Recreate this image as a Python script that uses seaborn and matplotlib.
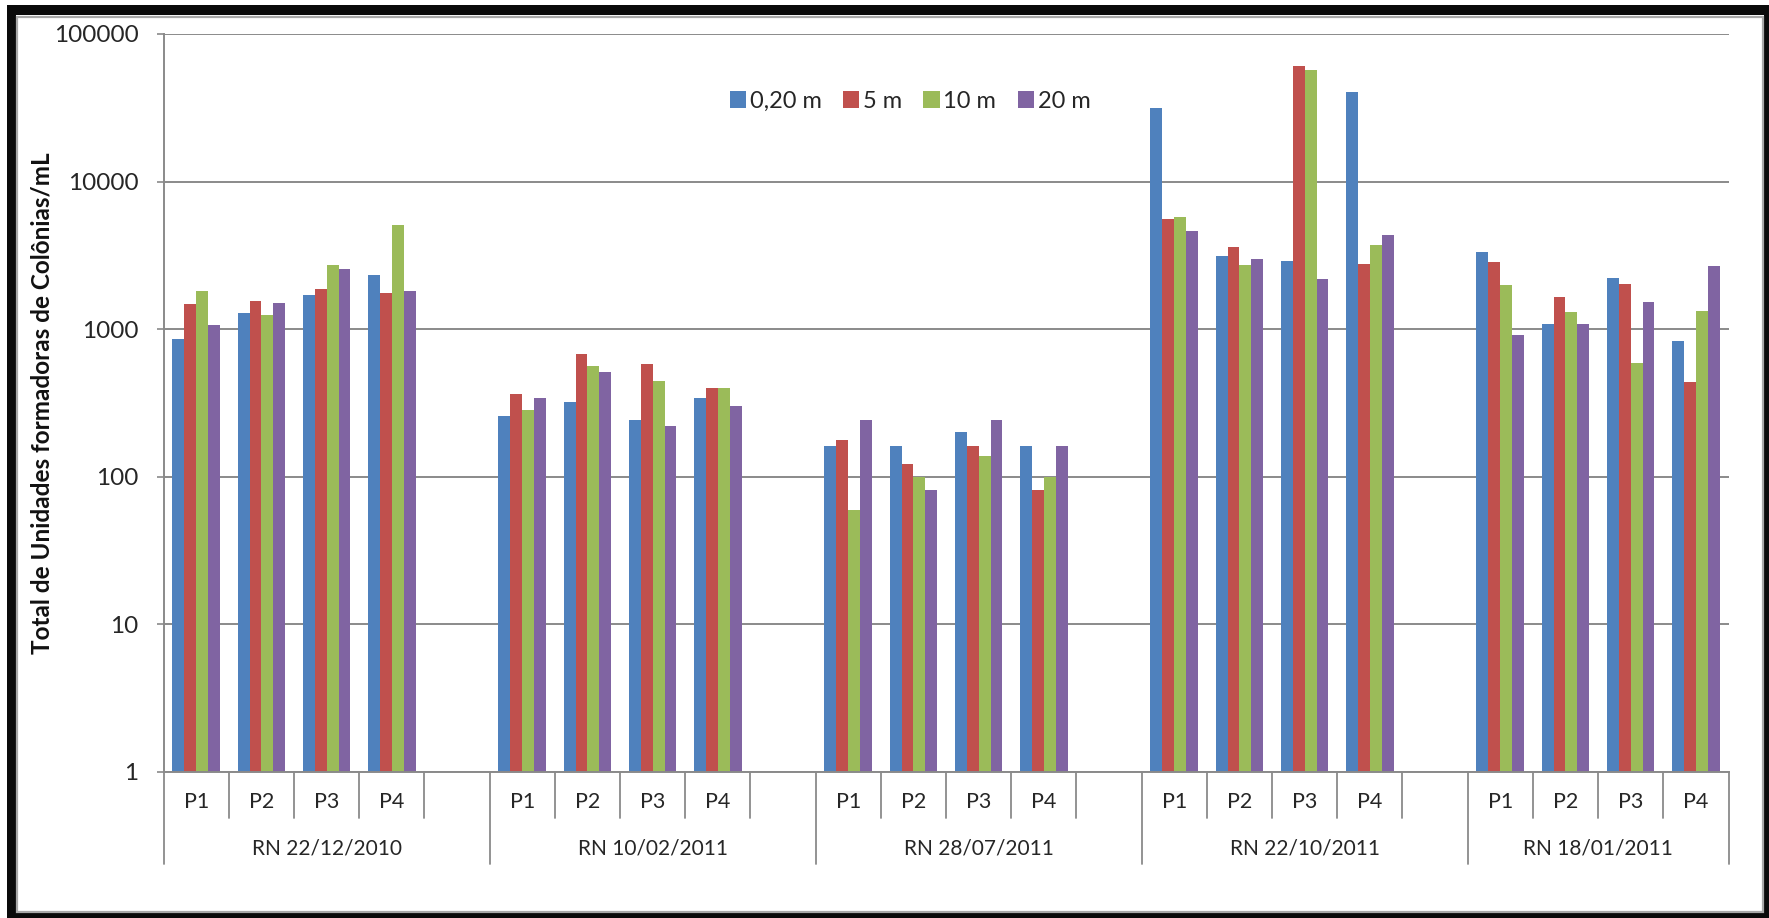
import matplotlib
matplotlib.use("Agg")
import matplotlib.pyplot as plt
from matplotlib.patches import Rectangle, Patch
from matplotlib.ticker import FixedLocator, FixedFormatter, NullLocator
import pandas as pd
import seaborn as sns

# Sampling campaigns, sampling points and depths
campaigns = ["RN 22/12/2010", "RN 10/02/2011", "RN 28/07/2011", "RN 22/10/2011", "RN 18/01/2011"]
points = ["P1", "P2", "P3", "P4"]
depths = ["0,20 m", "5 m", "10 m", "20 m"]

# UFC/mL per depth, campaign by campaign, P1..P4 within each campaign
ufc_020m = [850, 1290, 1700, 2330, 256, 320, 241, 339, 161, 161, 200, 161,
            31400, 3150, 2880, 40300, 3310, 1075, 2205, 833]
ufc_5m = [1470, 1540, 1870, 1750, 361, 678, 581, 398, 177, 122, 161, 81,
          5540, 3590, 60600, 2780, 2830, 1656, 2020, 441]
ufc_10m = [1820, 1240, 2710, 5060, 281, 560, 448, 398, 59, 100, 138, 100,
           5720, 2700, 56900, 3690, 2000, 1297, 588, 1331]
ufc_20m = [1060, 1500, 2560, 1820, 339, 510, 221, 299, 241, 81, 241, 161,
           4610, 2970, 2190, 4330, 915, 1075, 1515, 2660]

ytick_values = [1, 10, 100, 1000, 10000, 100000]
ytick_labels = ["1", "10", "100", "1000", "10000", "100000"]

colors = ["#4F81BD", "#C0504D", "#9BBB59", "#8064A2"]

# Category slots: P1..P4 for each campaign, with an empty slot between campaigns
order = []
for i, c in enumerate(campaigns):
    for p in points:
        order.append(f"{c}|{p}")
    if i < len(campaigns) - 1:
        order.append(f"{c}|")

series = [ufc_020m, ufc_5m, ufc_10m, ufc_20m]
rows = []
for d, vals in zip(depths, series):
    k = 0
    for c in campaigns:
        for p in points:
            rows.append({"slot": f"{c}|{p}", "depth": d, "ufc": vals[k]})
            k += 1
df = pd.DataFrame(rows)

sns.set_theme(style="white")
plt.rcParams["font.family"] = ["Lato", "DejaVu Sans"]
text_color = "#262626"
grid_color = "#8a8a8a"

W, H = 1769, 918
fig = plt.figure(figsize=(W / 100, H / 100), dpi=100)
fig.patch.set_facecolor("white")

# Framed border: heavy dark band on top/left, thin on bottom/right
fig.add_artist(Rectangle((7 / W, 0), 1 - 7 / W, 1 - 5 / H, transform=fig.transFigure,
                         facecolor="#0a0a0a", edgecolor="none", zorder=-20))
fig.add_artist(Rectangle((15.5 / W, 5 / H), (1764 - 15.5) / W, (913 - 15) / H,
                         transform=fig.transFigure, facecolor="white",
                         edgecolor="none", zorder=-19))
fig.add_artist(Rectangle((16.5 / W, 6.5 / H), (1762.5 - 16.5) / W, (911.5 - 16.5) / H,
                         transform=fig.transFigure, facecolor="none",
                         edgecolor="#a8a8a8", lw=1.6, zorder=-18))

left, right, top, bottom = 163.6, 1728.5, 34.0, 771.7
ax = fig.add_axes([left / W, 1 - bottom / H, (right - left) / W, (bottom - top) / H])
ax.set_facecolor("none")

sns.barplot(data=df, x="slot", y="ufc", hue="depth", order=order, hue_order=depths,
            palette=colors, width=0.73, gap=0, errorbar=None, saturation=1,
            linewidth=0, legend=False, ax=ax)

ax.set_yscale("log")
ax.set_ylim(1, 100000)
ax.set_xlim(-0.5, len(order) - 0.5)
ax.yaxis.set_major_locator(FixedLocator(ytick_values))
ax.yaxis.set_major_formatter(FixedFormatter(ytick_labels))
ax.yaxis.set_minor_locator(NullLocator())
ax.yaxis.grid(True, color=grid_color, lw=1.4)
ax.set_axisbelow(True)
ax.tick_params(axis="y", left=True, length=5, width=1.2, color=grid_color,
               pad=13, labelsize=17.5, labelcolor=text_color)
ax.set_xticks([])
ax.set_xlabel("")
for s in ["top", "right"]:
    ax.spines[s].set_visible(False)
for s in ["left", "bottom"]:
    ax.spines[s].set_color(grid_color)
    ax.spines[s].set_linewidth(1.4)

ax.set_ylabel("Total de Unidades formadoras de Colônias/mL", fontsize=17.5,
              fontweight="bold", color="#111111")
ax.yaxis.set_label_coords(-0.0705, 0.5)

# Two-level category axis drawn below the plot
xt = ax.get_xaxis_transform()
short_y, long_y = -0.0628, -0.125
sep_edges = [-0.5]
pos = -0.5
for i, c in enumerate(campaigns):
    n = len(points) + (1 if i < len(campaigns) - 1 else 0)
    start = pos
    for j in range(n):
        if j > 0:
            ax.plot([start + j, start + j], [0, short_y], transform=xt,
                    color=grid_color, lw=1.3, clip_on=False)
    for j, p in enumerate(points):
        ax.text(start + j + 0.5, -0.0406, p, transform=xt, ha="center",
                va="center", fontsize=15.5, color=text_color)
    ax.text(start + n / 2, -0.104, c, transform=xt, ha="center", va="center",
            fontsize=15, color=text_color)
    pos = start + n
    sep_edges.append(pos)
for e in sep_edges:
    ax.plot([e, e], [0, long_y], transform=xt, color=grid_color, lw=1.3, clip_on=False)

handles = [Patch(facecolor=c, edgecolor="none", label=d) for c, d in zip(colors, depths)]
fig.legend(handles=handles, loc="center", bbox_to_anchor=(910 / W, 1 - 101.5 / H),
           ncol=4, frameon=False, fontsize=17, handlelength=0.7, handleheight=0.7,
           handletextpad=0.15, columnspacing=0.9, labelcolor=text_color)

fig.savefig("out.png", dpi=100)
